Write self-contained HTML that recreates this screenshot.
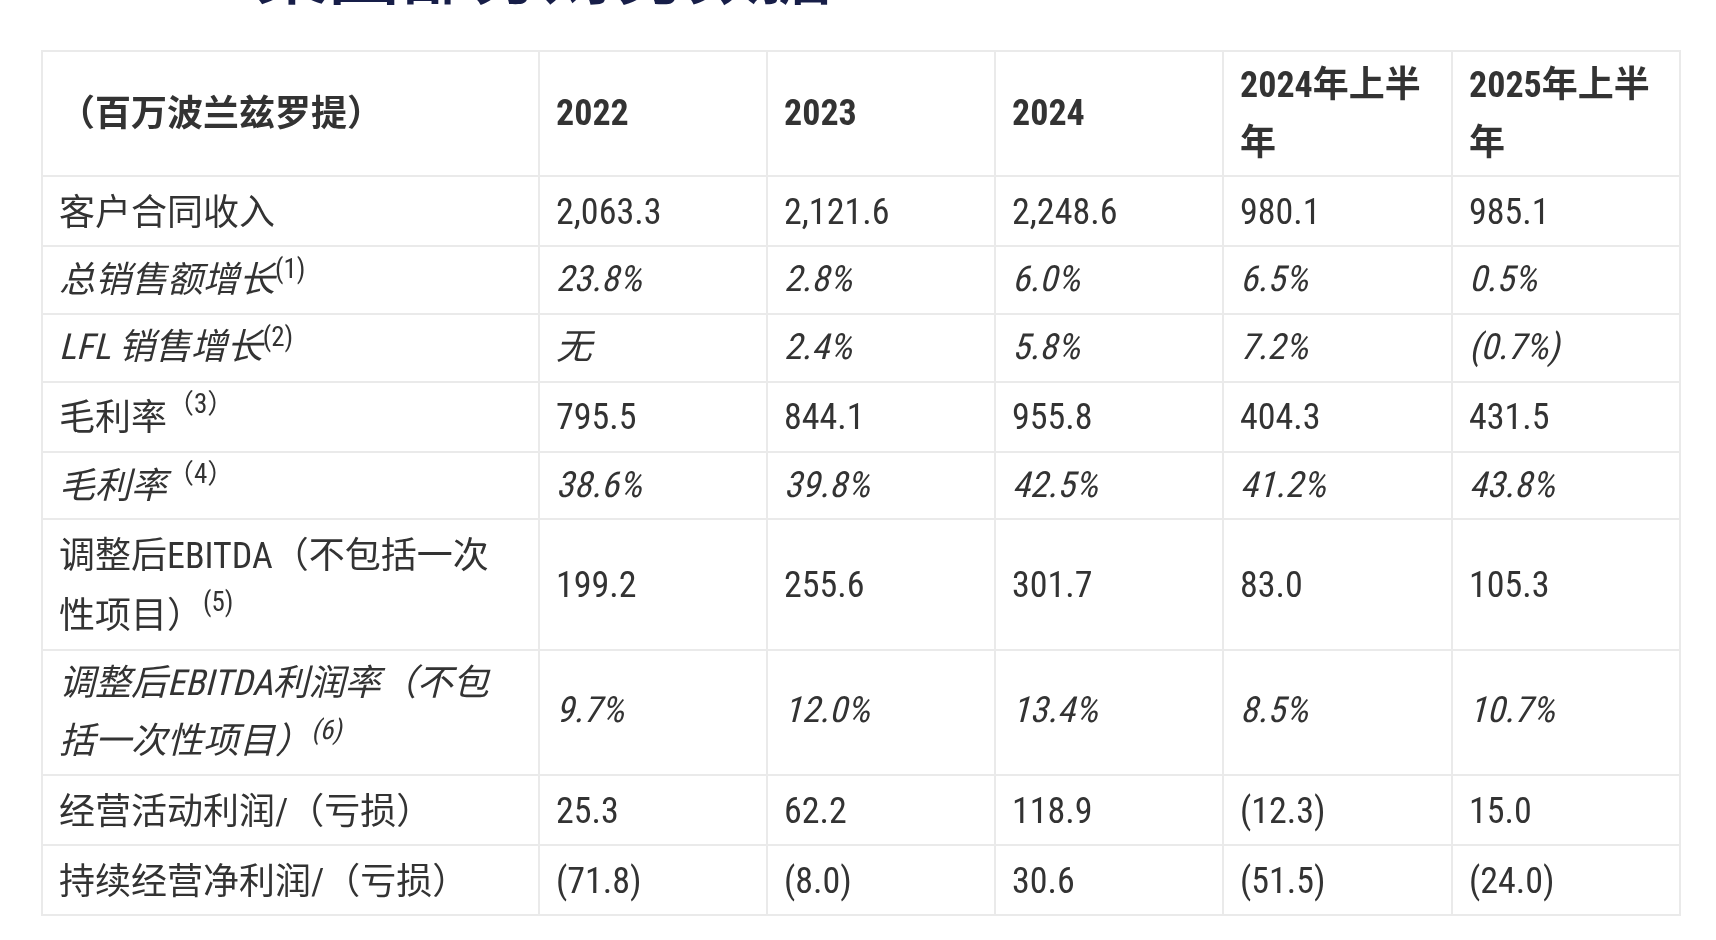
<!DOCTYPE html>
<html lang="zh-CN">
<head>
<meta charset="utf-8">
<title>财务数据</title>
<style>
html,body{margin:0;padding:0;background:#fff;}
body{width:1716px;height:940px;overflow:hidden;position:relative;
  font-family:"Roboto Condensed","Liberation Sans","Noto Sans CJK SC",sans-serif;color:#333;}
h2.title{position:absolute;left:256px;top:-83px;margin:0;white-space:nowrap;
  font-family:"Noto Sans CJK SC","WenQuanYi Zen Hei",sans-serif;font-weight:500;
  font-size:72px;line-height:100px;color:#171e48;letter-spacing:0;}
table.fin{will-change:transform;position:absolute;left:41px;top:50px;border-collapse:separate;border-spacing:0;
  table-layout:fixed;width:1640px;border-top:2px solid #eaeaea;border-left:2px solid #eaeaea;}
table.fin td,table.fin th{box-sizing:border-box;border-right:2px solid #eaeaea;border-bottom:2px solid #eaeaea;
  padding:0 16px;vertical-align:middle;text-align:left;font-size:36px;line-height:58px;
  font-weight:400;white-space:nowrap;overflow:hidden;}
table.fin th{font-weight:700;}
.it td{font-style:italic;}
.ob{display:inline-block;font-style:normal;line-height:36px;transform:skewX(-14.036deg);transform-origin:0 30px;}
sup{font-size:27px;line-height:0;vertical-align:super;font-style:normal;position:relative;}
sup .ob{line-height:27px;transform-origin:0 23px;}
.l2{display:block;margin-top:2px;}
</style>
</head>
<body>
<h2 class="title">集团部分财务数据</h2>
<table class="fin">
<colgroup>
<col style="width:497px"><col style="width:228px"><col style="width:228px"><col style="width:228px"><col style="width:229px"><col style="width:228px">
</colgroup>
<tr style="height:125px"><th>（百万波兰兹罗提）</th><th style="padding-bottom:2px">2022</th><th style="padding-bottom:2px">2023</th><th style="padding-bottom:2px">2024</th><th>2024年上半<br>年</th><th>2025年上半<br>年</th></tr>
<tr style="height:70px"><td style="padding-top:4px">客户合同收入</td><td style="padding-top:2px">2,063.3</td><td style="padding-top:2px">2,121.6</td><td style="padding-top:2px">2,248.6</td><td style="padding-top:2px">980.1</td><td style="padding-top:2px">985.1</td></tr>
<tr class="it" style="height:68px"><td style="padding-bottom:1px">总销售额增长<sup style="top:-1px">(1)</sup></td><td style="padding-bottom:3px"><span class="ob">23.8%</span></td><td style="padding-bottom:3px"><span class="ob">2.8%</span></td><td style="padding-bottom:3px"><span class="ob">6.0%</span></td><td style="padding-bottom:3px"><span class="ob">6.5%</span></td><td style="padding-bottom:3px"><span class="ob">0.5%</span></td></tr>
<tr class="it" style="height:68px"><td style="padding-bottom:2px"><span class="ob">LFL</span> 销售增长<sup>(2)</sup></td><td style="padding-bottom:2px">无</td><td style="padding-bottom:2px"><span class="ob">2.4%</span></td><td style="padding-bottom:2px"><span class="ob">5.8%</span></td><td style="padding-bottom:2px"><span class="ob">7.2%</span></td><td style="padding-bottom:2px"><span class="ob">(0.7%)</span></td></tr>
<tr style="height:70px"><td style="padding-top:2px">毛利率<sup class="fw" style="top:-4px">（3）</sup></td><td>795.5</td><td>844.1</td><td>955.8</td><td>404.3</td><td>431.5</td></tr>
<tr class="it" style="height:67px"><td>毛利率<sup class="fw" style="top:-2px">（4）</sup></td><td style="padding-bottom:2px"><span class="ob">38.6%</span></td><td style="padding-bottom:2px"><span class="ob">39.8%</span></td><td style="padding-bottom:2px"><span class="ob">42.5%</span></td><td style="padding-bottom:2px"><span class="ob">41.2%</span></td><td style="padding-bottom:2px"><span class="ob">43.8%</span></td></tr>
<tr style="height:131px"><td style="padding-top:2px">调整后EBITDA（不包括一次<span class="l2">性项目）<sup style="top:-3.5px">(5)</sup></span></td><td>199.2</td><td>255.6</td><td>301.7</td><td>83.0</td><td>105.3</td></tr>
<tr class="it" style="height:125px"><td style="padding-bottom:2px">调整后<span class="ob">EBITDA</span>利润率（不包<br>括一次性项目）<sup style="top:-1px"><span class="ob">(6)</span></sup></td><td style="padding-bottom:5px"><span class="ob">9.7%</span></td><td style="padding-bottom:5px"><span class="ob">12.0%</span></td><td style="padding-bottom:5px"><span class="ob">13.4%</span></td><td style="padding-bottom:5px"><span class="ob">8.5%</span></td><td style="padding-bottom:5px"><span class="ob">10.7%</span></td></tr>
<tr style="height:70px"><td style="padding-top:4px">经营活动利润/（亏损）</td><td style="padding-top:2px">25.3</td><td style="padding-top:2px">62.2</td><td style="padding-top:2px">118.9</td><td style="padding-top:2px">(12.3)</td><td style="padding-top:2px">15.0</td></tr>
<tr style="height:70px"><td style="padding-top:4px">持续经营净利润/（亏损）</td><td style="padding-top:2px">(71.8)</td><td style="padding-top:2px">(8.0)</td><td style="padding-top:2px">30.6</td><td style="padding-top:2px">(51.5)</td><td style="padding-top:2px">(24.0)</td></tr>
</table>
</body>
</html>
